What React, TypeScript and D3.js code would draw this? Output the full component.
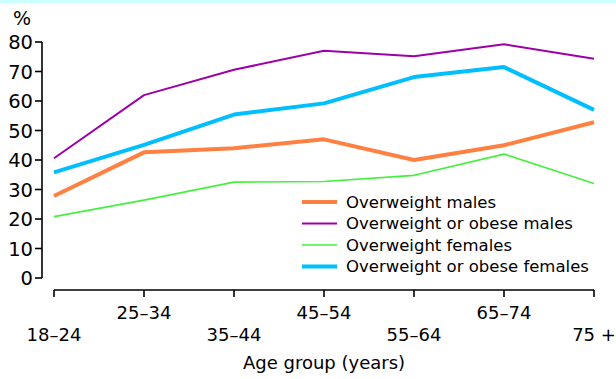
import React from "react";
import * as d3 from "d3";

const ageGroups = ["18–24", "25–34", "35–44", "45–54", "55–64", "65–74", "75 +"];
const overweightMales = [27.8, 42.6, 44, 47, 40, 45, 52.8];
const overweightObeseMales = [40.6, 62, 70.6, 77, 75.2, 79.2, 74.3];
const overweightFemales = [20.8, 26.4, 32.5, 32.7, 34.8, 42, 32];
const overweightObeseFemales = [35.8, 45.1, 55.4, 59.2, 68.1, 71.5, 57];
const yTicks = [0, 10, 20, 30, 40, 50, 60, 70, 80];

const seriesList = [
  { name: "Overweight males", values: overweightMales, color: "#ff8040", width: 4 },
  { name: "Overweight or obese males", values: overweightObeseMales, color: "#9e00a8", width: 2 },
  { name: "Overweight females", values: overweightFemales, color: "#44f03c", width: 1.6 },
  { name: "Overweight or obese females", values: overweightObeseFemales, color: "#00bfff", width: 4 },
];

const W = 616;
const H = 379;
const FONT = "'DejaVu Sans', Verdana, sans-serif";

export default function App() {
  const x = d3.scalePoint<string>().domain(ageGroups).range([54, 594]);
  const y = d3.scaleLinear().domain([0, 80]).range([278, 42]);
  const axisX = 42;
  const axisY = 290;

  const line = d3
    .line<number>()
    .x((_, i) => x(ageGroups[i]) as number)
    .y((d) => y(d));

  return (
    <svg
      width={W}
      height={H}
      style={{ position: "absolute", left: 0, top: 0, background: "#fff" }}
      fontFamily={FONT}
    >
      <rect x={0} y={0} width={W} height={3} fill="#ccffff" />

      {/* y axis */}
      <text x={13} y={25} fontSize={19} fill="#000">%</text>
      <line x1={axisX} x2={axisX} y1={y(80)} y2={y(0)} stroke="#000" strokeWidth={1.6} />
      {yTicks.map((t) => (
        <g key={t}>
          <line x1={axisX - 7} x2={axisX} y1={y(t)} y2={y(t)} stroke="#000" strokeWidth={1.6} />
          <text x={33} y={y(t)} dy="0.37em" textAnchor="end" fontSize={19.5} fill="#000">
            {t}
          </text>
        </g>
      ))}

      {/* x axis */}
      <line x1={x(ageGroups[0])} x2={x(ageGroups[ageGroups.length - 1])} y1={axisY} y2={axisY} stroke="#000" strokeWidth={1.6} />
      {ageGroups.map((g, i) => (
        <g key={g}>
          <line x1={x(g)} x2={x(g)} y1={axisY} y2={axisY + 7} stroke="#000" strokeWidth={1.6} />
          <text
            x={x(g)}
            y={i % 2 === 0 ? 341 : 319}
            textAnchor="middle"
            fontSize={18}
            fill="#000"
          >
            {g}
          </text>
        </g>
      ))}
      <text x={(x(ageGroups[0])! + x(ageGroups[6])!) / 2} y={369} textAnchor="middle" fontSize={18} fill="#000">
        Age group (years)
      </text>

      {/* series */}
      {seriesList.map((s) => (
        <path
          key={s.name}
          d={line(s.values) || ""}
          fill="none"
          stroke={s.color}
          strokeWidth={s.width}
          strokeLinejoin="round"
        />
      ))}

      {/* legend */}
      {seriesList.map((s, i) => {
        const cy = 202 + i * 21.5;
        return (
          <g key={s.name}>
            <line x1={302} x2={337} y1={cy} y2={cy} stroke={s.color} strokeWidth={s.width} />
            <text x={346} y={cy} dy="0.36em" fontSize={16.5} fill="#000">
              {s.name}
            </text>
          </g>
        );
      })}
    </svg>
  );
}
